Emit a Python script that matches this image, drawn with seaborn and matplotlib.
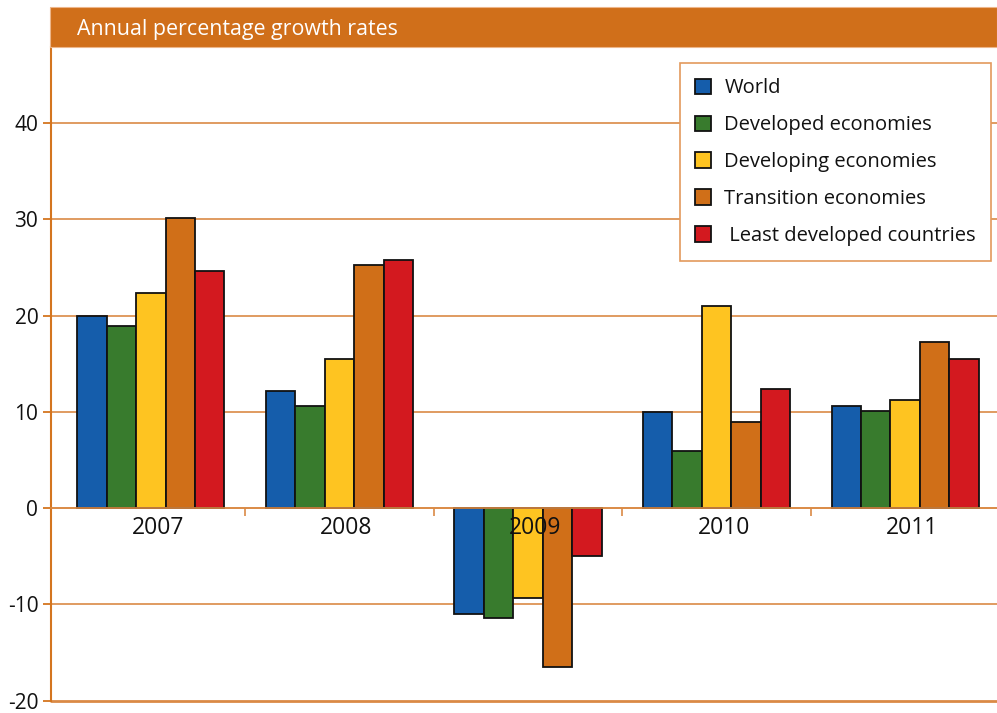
import matplotlib
matplotlib.use("Agg")
import matplotlib.pyplot as plt
import matplotlib.transforms as mtransforms
from matplotlib.patches import Rectangle, Patch
import numpy as np
import pandas as pd
import seaborn as sns

# Annual growth rates (%) by economy group
years = ["2007", "2008", "2009", "2010", "2011"]
groups = ["World", "Developed economies", "Developing economies",
          "Transition economies", "Least developed countries"]
world = [20.0, 12.2, -11.0, 10.0, 10.6]
developed = [18.9, 10.6, -11.4, 5.9, 10.1]
developing = [22.3, 15.5, -9.3, 21.0, 11.2]
transition = [30.1, 25.3, -16.5, 8.9, 17.3]
least_developed = [24.6, 25.8, -5.0, 12.4, 15.5]
y_ticks = [-20, -10, 0, 10, 20, 30, 40]
legend_labels = ["World", "Developed economies", "Developing economies",
                 "Transition economies", " Least developed countries"]
title = "Annual percentage growth rates"

colors = ["#155DAB", "#387B2D", "#FEC421", "#D06F18", "#D3191F"]
ORANGE = "#D4751F"
GRID = "#DA8A45"

series = [world, developed, developing, transition, least_developed]
df = pd.DataFrame({
    "year": years * len(groups),
    "group": [g for g in groups for _ in years],
    "value": [v for s in series for v in s],
})

sns.set_style("white")
plt.rcParams["font.family"] = ["Open Sans", "DejaVu Sans"]

fig = plt.figure(figsize=(9.97, 7.13), dpi=100)
ax = fig.add_axes([0.0512, 0.0175, 0.9488, 0.9166])

sns.barplot(data=df, x="year", y="value", hue="group", hue_order=groups,
            order=years, palette=colors, width=0.78, dodge=True,
            edgecolor="#111111", linewidth=1.3, saturation=1,
            errorbar=None, legend=False, ax=ax, zorder=1)

ax.set_xlim(-0.529, 4.487)
ax.set_ylim(-20, 47.9)

# horizontal reference lines behind the bars
for v in y_ticks:
    if v > -20:
        ax.axhline(v, color=GRID, lw=1.2, zorder=0.3)

ax.set_yticks(y_ticks)
ax.set_yticklabels([str(v) for v in y_ticks])
ax.tick_params(axis="y", which="major", length=5.8, width=1.3, color=ORANGE,
               pad=3.4, labelsize=15, labelcolor="#111111", left=True)

# category labels under the zero line, separator ticks between categories
ax.spines["bottom"].set_position(("data", 0))
ax.spines["bottom"].set_color(GRID)
ax.spines["bottom"].set_linewidth(1.2)
ax.set_xticks(range(len(years)))
ax.set_xticklabels(years)
ax.set_xticks([i + 0.5 for i in range(len(years) - 1)], minor=True)
ax.tick_params(axis="x", which="major", length=0, pad=6, labelsize=16.5,
               labelcolor="#111111")
ax.tick_params(axis="x", which="minor", length=5.8, width=1.2, color=GRID,
               direction="out", bottom=True)
offset = mtransforms.ScaledTranslation(0.07, 0, fig.dpi_scale_trans)
for lab in ax.get_xticklabels():
    lab.set_transform(lab.get_transform() + offset)
    lab.set_zorder(5)
ax.xaxis.set_zorder(5)

ax.set_xlabel("")
ax.set_ylabel("")
for side in ["top", "right"]:
    ax.spines[side].set_visible(False)
ax.spines["left"].set_color(ORANGE)
ax.spines["left"].set_linewidth(1.5)
ax.spines["left"].set_bounds(-20, 47.9)

# bottom border at the lowest tick
ax.axhline(-20, color=GRID, lw=2.0, zorder=0.3, clip_on=False)

# title banner
fig.patches.append(Rectangle((0.0502, 0.9345), 0.9498, 0.0561,
                             transform=fig.transFigure, facecolor="#D06F1A",
                             edgecolor="#EDB68A", linewidth=0.8, zorder=0))
fig.text(0.0772, 0.959, title, color="white", fontsize=15.4,
         va="center", ha="left")

handles = [Patch(facecolor=c, edgecolor="#111111", linewidth=1.3)
           for c in colors]
leg = ax.legend(handles, legend_labels, loc="upper left",
                bbox_to_anchor=(0.682, 0.9116), bbox_transform=fig.transFigure,
                frameon=True, fancybox=False, framealpha=1,
                edgecolor="#E39A5C", fontsize=14.5, labelspacing=0.84,
                handlelength=0.8, handleheight=0.8, handletextpad=0.65,
                borderpad=0.76, borderaxespad=0)
leg.get_frame().set_linewidth(1.2)
for t in leg.get_texts():
    t.set_color("#111111")

fig.savefig("out.png", dpi=100)
